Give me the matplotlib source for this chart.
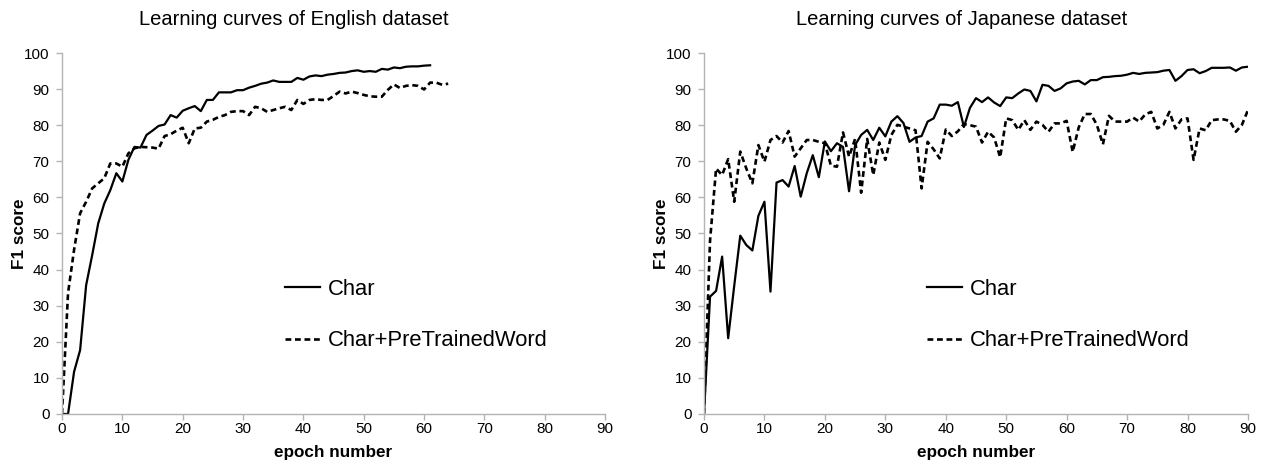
import matplotlib
matplotlib.use("Agg")
import matplotlib.pyplot as plt

plt.rcParams['font.family'] = ['Liberation Sans', 'DejaVu Sans']

# English dataset
en_char = [0, 0, 11.7, 17.7, 35.7, 44, 52.8, 58.3, 62, 66.7, 64.4, 70.4, 74, 73.8, 77.3,
           78.5, 79.8, 80.2, 82.8, 82.1, 84, 84.7, 85.3, 83.9, 87, 87, 89.1, 89.1, 89.1,
           89.7, 89.7, 90.4, 90.9, 91.5, 91.8, 92.4, 92, 92, 92, 93.1, 92.6, 93.5, 93.8,
           93.6, 94, 94.2, 94.5, 94.6, 95, 95.2, 94.8, 95, 94.8, 95.6, 95.4, 96, 95.8,
           96.2, 96.3, 96.3, 96.5, 96.6]
en_pre = [0, 33.5, 45.5, 55.6, 58.8, 62.5, 63.9, 65.3, 69.4, 69.4, 68.5, 72.2, 73.6, 74,
          73.9, 73.8, 73.5, 77, 77.5, 78.5, 79.3, 75, 79.1, 79.3, 81, 81.5, 82.3, 82.8,
          83.7, 83.9, 83.9, 82.8, 85.1, 84.7, 83.7, 84.2, 84.7, 85.1, 84.2, 87, 85.9, 87,
          87.2, 87, 87, 88.1, 89.3, 88.8, 89.3, 88.9, 88.4, 88, 87.9, 87.9, 89.8, 91.3,
          90.3, 90.9, 91.1, 90.9, 89.9, 91.8, 91.8, 91.2, 91.5]

# Japanese dataset
ja_char = [0, 32.5, 34.1, 43.6, 21, 35.5, 49.4, 46.8, 45.3, 54.9, 58.8, 33.9, 64.1, 64.8,
           63, 68.7, 60.2, 66.7, 71.7, 65.6, 75.5, 72.8, 75, 74, 61.7, 74.5, 77.3, 78.7,
           75.9, 79.3, 76.9, 81, 82.5, 80.6, 75.4, 76.6, 77, 81, 81.9, 85.7, 85.7, 85.4,
           86.4, 79.5, 84.8, 87.5, 86.4, 87.7, 86.3, 85.3, 87.7, 87.5, 88.8, 89.9, 89.5,
           86.6, 91.2, 90.9, 89.5, 90.2, 91.6, 92.1, 92.3, 91.3, 92.5, 92.5, 93.3, 93.4,
           93.6, 93.7, 94, 94.5, 94.2, 94.5, 94.6, 94.7, 95.1, 95.3, 92.3, 93.6, 95.3, 95.5,
           94.4, 95, 95.9, 95.9, 95.9, 96, 95.1, 96, 96.2]
ja_pre = [0, 48, 68, 66.2, 70.6, 58.8, 72.7, 68, 63.9, 74.5, 69.9, 75.9, 77, 75.2, 78.4,
          71.3, 73.6, 75.9, 75.9, 75.4, 75, 68.8, 68.5, 78, 71.3, 76.2, 61.3, 76.2, 66.2,
          75.2, 70.4, 77.3, 80.1, 79.6, 79.1, 78.6, 62.5, 75.4, 73.3, 70.8, 78.8, 77, 78.3,
          80.3, 80, 79.6, 75.2, 78.2, 76.6, 71.1, 81.9, 81.4, 78.7, 81.4, 78.7, 81, 80.1,
          78.2, 80.5, 80.5, 81.2, 72.6, 79.4, 83.1, 83.1, 80.1, 74.7, 82.6, 81, 81, 81,
          82.1, 81, 83, 83.7, 79.1, 80.1, 83.7, 79.1, 81.6, 81.9, 70.4, 79.1, 78.6, 81.4,
          81.6, 81.6, 81.2, 78.2, 80.1, 84.2]

titles = ["Learning curves of English dataset", "Learning curves of Japanese dataset"]
labels = ["Char", "Char+PreTrainedWord"]
x_ticks = list(range(0, 100, 10))
y_ticks = list(range(0, 110, 10))

fig = plt.figure(figsize=(12.63, 4.61), dpi=100)
ax1 = fig.add_axes([0.0491, 0.102, 0.430, 0.783])
ax2 = fig.add_axes([0.5574, 0.102, 0.4307, 0.783])

gray = '#b3b3b3'
for ax, title, char, pre, tx in [(ax1, titles[0], en_char, en_pre, 0.427),
                                 (ax2, titles[1], ja_char, ja_pre, 0.474)]:
    ax.plot(range(len(char)), char, color='black', lw=1.6, label=labels[0])
    ax.plot(range(len(pre)), pre, color='black', lw=1.9, linestyle=(0, (2.2, 1.4)),
            label=labels[1])
    ax.set_xlim(0, 90)
    ax.set_ylim(0, 100)
    ax.set_xticks(x_ticks)
    ax.set_yticks(y_ticks)
    for s in ['top', 'right']:
        ax.spines[s].set_visible(False)
    for s in ['left', 'bottom']:
        ax.spines[s].set_color(gray)
        ax.spines[s].set_linewidth(1.0)
    ax.tick_params(axis='both', direction='out', length=4, width=1.0, color=gray,
                   labelsize=11, labelcolor='black', pad=2)
    ax.tick_params(axis='y', pad=5)
    ax.set_title(title, fontsize=14.5, pad=20, x=tx)
    ax.set_xlabel("epoch number", fontsize=12.3, fontweight='bold', labelpad=6)
    ax.set_ylabel("F1 score", fontsize=12.3, fontweight='bold', labelpad=-2)
    ax.legend(loc='upper left', bbox_to_anchor=(0.39, 0.405), frameon=False,
              fontsize=15.8, borderpad=0, labelspacing=1.4, handlelength=1.6,
              handletextpad=0.35)

fig.savefig("out.png", dpi=100)
